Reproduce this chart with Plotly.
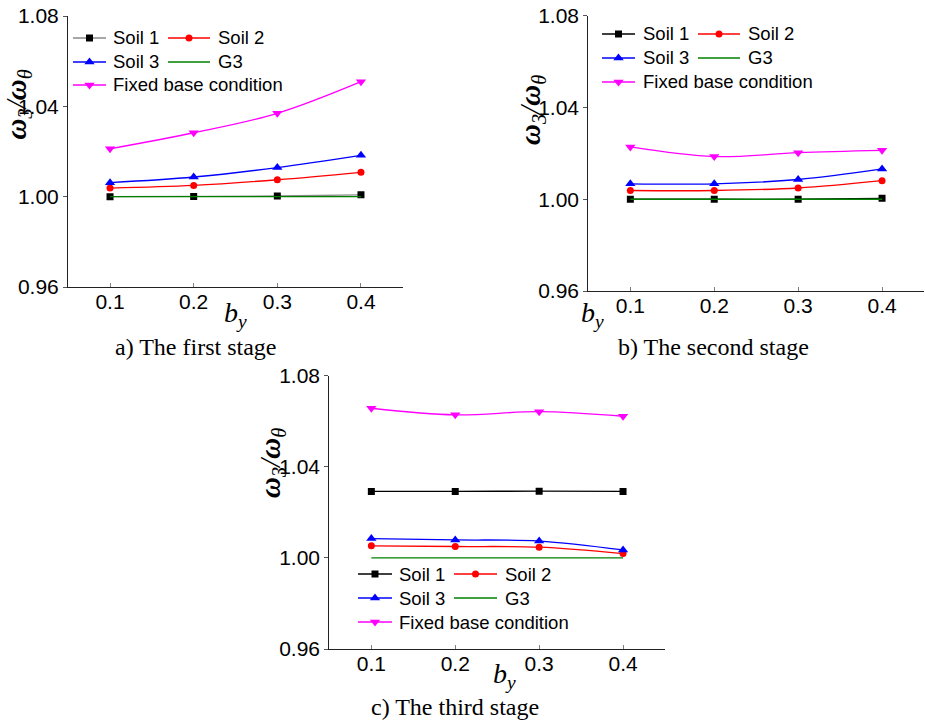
import plotly.graph_objects as go

W, H = 925, 721

# ---------------- data ----------------
by_values = [0.1, 0.2, 0.3, 0.4]
series_names = ["Soil 1", "Soil 2", "Soil 3", "G3", "Fixed base condition"]

a_soil1 = [1.0000, 1.0001, 1.0003, 1.0008]
a_soil2 = [1.0038, 1.0050, 1.0075, 1.0108]
a_soil3 = [1.0062, 1.0087, 1.0129, 1.0183]
a_g3 = [1.0000, 1.0000, 1.0000, 1.0000]
a_fixed = [1.0212, 1.0283, 1.0369, 1.0509]

b_soil1 = [1.0000, 1.0000, 1.0000, 1.0004]
b_soil2 = [1.0038, 1.0038, 1.0049, 1.0081]
b_soil3 = [1.0067, 1.0067, 1.0086, 1.0132]
b_g3 = [1.0000, 1.0000, 1.0000, 1.0000]
b_fixed = [1.0228, 1.0186, 1.0203, 1.0213]

c_soil1 = [1.0292, 1.0292, 1.0293, 1.0292]
c_soil2 = [1.0053, 1.0050, 1.0047, 1.0019]
c_soil3 = [1.0085, 1.0079, 1.0074, 1.0035]
c_g3 = [1.0000, 1.0000, 1.0000, 1.0000]
c_fixed = [1.0657, 1.0628, 1.0642, 1.0622]

x_tick_vals = [0.1, 0.2, 0.3, 0.4]
x_tick_text = ["0.1", "0.2", "0.3", "0.4"]
y_tick_vals = [0.96, 1.00, 1.04, 1.08]
y_tick_text = ["0.96", "1.00", "1.04", "1.08"]
captions = ["a) The first stage", "b) The second stage", "c) The third stage"]

panels_data = [
    [a_soil1, a_soil2, a_soil3, a_g3, a_fixed],
    [b_soil1, b_soil2, b_soil3, b_g3, b_fixed],
    [c_soil1, c_soil2, c_soil3, c_g3, c_fixed],
]

# ---------------- styles ----------------
styles = {
    "Soil 1": dict(color="#000000", symbol="square", size=7),
    "Soil 2": dict(color="#FF0000", symbol="circle", size=7),
    "Soil 3": dict(color="#0000FF", symbol="triangle-up", size=9),
    "G3": dict(color="#008000", symbol=None, size=0),
    "Fixed base condition": dict(color="#FF00FF", symbol="triangle-down", size=9),
}
soil1_line_colors = ["#8a8a8a", "#000000", "#000000"]

# panel geometry in pixels: x0, x1, ytop, ybottom
geom = [
    (68.2, 402.8, 16.0, 287.0),
    (588.4, 924.0, 15.7, 291.0),
    (329.4, 665.0, 375.7, 649.0),
]
# legend layout (pixels): col1 line x0,x1,text x ; col2 line x0,x1,text x ; row ys
leg_layout = [
    ((73, 106, 111), (168, 210, 216), (38, 62, 85)),
    ((602, 635, 641), (698, 740, 746), (34, 58, 82)),
    ((358, 392, 397), (454, 497, 503), (574, 598, 622)),
]
ytitle_pos = [(17.5, 105), (532, 110), (272, 463)]
xtitle_pos = [(235, 314), (592.5, 314), (504.7, 675)]
caption_pos = [(195.5, 347), (713, 347), (454.7, 707)]

SANS = "Liberation Sans, Arial, sans-serif"
SERIF = "Liberation Serif, Times New Roman, serif"


def px(x):
    return x / W


def py(y):
    return 1 - y / H


fig = go.Figure()
annotations = []

for i, (pdata, (x0, x1, yt, yb)) in enumerate(zip(panels_data, geom)):
    n = i + 1
    xa = "x" if n == 1 else f"x{n}"
    ya = "y" if n == 1 else f"y{n}"
    for name, vals in zip(series_names, pdata):
        st = styles[name]
        lcolor = soil1_line_colors[i] if name == "Soil 1" else st["color"]
        if st["symbol"] is None:
            fig.add_trace(go.Scatter(
                x=by_values, y=vals, mode="lines", xaxis=xa, yaxis=ya,
                line=dict(color=lcolor, width=1.4, shape="spline"),
                showlegend=False, name=name))
        else:
            fig.add_trace(go.Scatter(
                x=by_values, y=vals, mode="lines+markers", xaxis=xa, yaxis=ya,
                line=dict(color=lcolor, width=1.3, shape="spline"),
                marker=dict(symbol=st["symbol"], size=st["size"], color=st["color"],
                            line=dict(width=0)),
                showlegend=False, name=name))

    xkey = "xaxis" if n == 1 else f"xaxis{n}"
    ykey = "yaxis" if n == 1 else f"yaxis{n}"
    fig.update_layout(**{
        xkey: dict(domain=[px(x0), min(px(x1), 1.0)], anchor=ya, range=[0.05, 0.45],
                   tickvals=x_tick_vals, ticktext=x_tick_text,
                   ticks="inside", ticklen=4, tickcolor="#808080", tickwidth=1,
                   showline=True, linecolor="#222222", linewidth=1.4,
                   showgrid=False, zeroline=False, automargin=False,
                   ticklabeloverflow="allow", ticklabelstandoff=-4,
                   tickfont=dict(family=SANS, size=21, color="#000000")),
        ykey: dict(domain=[py(yb), py(yt)], anchor=xa, range=[0.96, 1.08],
                   tickvals=y_tick_vals, ticktext=y_tick_text,
                   ticks="outside", ticklen=4, tickcolor="#555555", tickwidth=1.2,
                   showline=True, linecolor="#222222", linewidth=1.4,
                   showgrid=False, zeroline=False, automargin=False,
                   ticklabeloverflow="allow",
                   tickfont=dict(family=SANS, size=21, color="#000000")),
    })

    # axis titles & caption
    tx, ty = ytitle_pos[i]
    annotations.append(dict(
        x=px(tx), y=py(ty), xref="paper", yref="paper", showarrow=False,
        textangle=-90, xanchor="center", yanchor="middle",
        text="<b><i>ω</i></b><sub><i>3</i></sub><i>/</i><b><i>ω</i></b><sub><i>θ</i></sub>",
        font=dict(family=SERIF, size=29, color="#000000")))
    bx, bY = xtitle_pos[i]
    annotations.append(dict(
        x=px(bx), y=py(bY), xref="paper", yref="paper", showarrow=False,
        xanchor="center", yanchor="middle",
        text="<i>b</i><sub><i>y</i></sub>",
        font=dict(family=SERIF, size=28, color="#000000")))
    cx, cy = caption_pos[i]
    annotations.append(dict(
        x=px(cx), y=py(cy), xref="paper", yref="paper", showarrow=False,
        xanchor="center", yanchor="middle", text=captions[i],
        font=dict(family=SERIF, size=24, color="#000000")))

    # manual legend (keys drawn on a pixel-based overlay axis)
    c1, c2, rows = leg_layout[i]
    entries = [
        (series_names[0], c1, rows[0]), (series_names[1], c2, rows[0]),
        (series_names[2], c1, rows[1]), (series_names[3], c2, rows[1]),
        (series_names[4], c1, rows[2]),
    ]
    for name, (lx0, lx1, ltx), ly in entries:
        st = styles[name]
        lcolor = soil1_line_colors[i] if name == "Soil 1" else st["color"]
        fig.add_trace(go.Scatter(
            x=[lx0, lx1], y=[ly, ly], mode="lines", xaxis="x4", yaxis="y4",
            line=dict(color=lcolor, width=1.4), showlegend=False, hoverinfo="skip"))
        if st["symbol"] is not None:
            fig.add_trace(go.Scatter(
                x=[(lx0 + lx1) / 2], y=[ly], mode="markers", xaxis="x4", yaxis="y4",
                marker=dict(symbol=st["symbol"], size=st["size"], color=st["color"],
                            line=dict(width=0)),
                showlegend=False, hoverinfo="skip"))
        annotations.append(dict(
            x=px(ltx), y=py(ly), xref="paper", yref="paper", showarrow=False,
            xanchor="left", yanchor="middle", text=name,
            font=dict(family=SANS, size=18.5, color="#000000")))

fig.update_layout(
    xaxis4=dict(domain=[0, 1], range=[0, W], visible=False, anchor="y4",
                fixedrange=True),
    yaxis4=dict(domain=[0, 1], range=[H, 0], visible=False, anchor="x4",
                fixedrange=True),
    width=W, height=H,
    margin=dict(l=0, r=0, t=0, b=0),
    paper_bgcolor="white", plot_bgcolor="rgba(0,0,0,0)",
    showlegend=False,
    annotations=annotations,
)

fig.write_html(
    "out.html",
    config={"displayModeBar": False},
    post_script="document.body.style.margin='0';document.body.style.overflow='hidden';",
)
